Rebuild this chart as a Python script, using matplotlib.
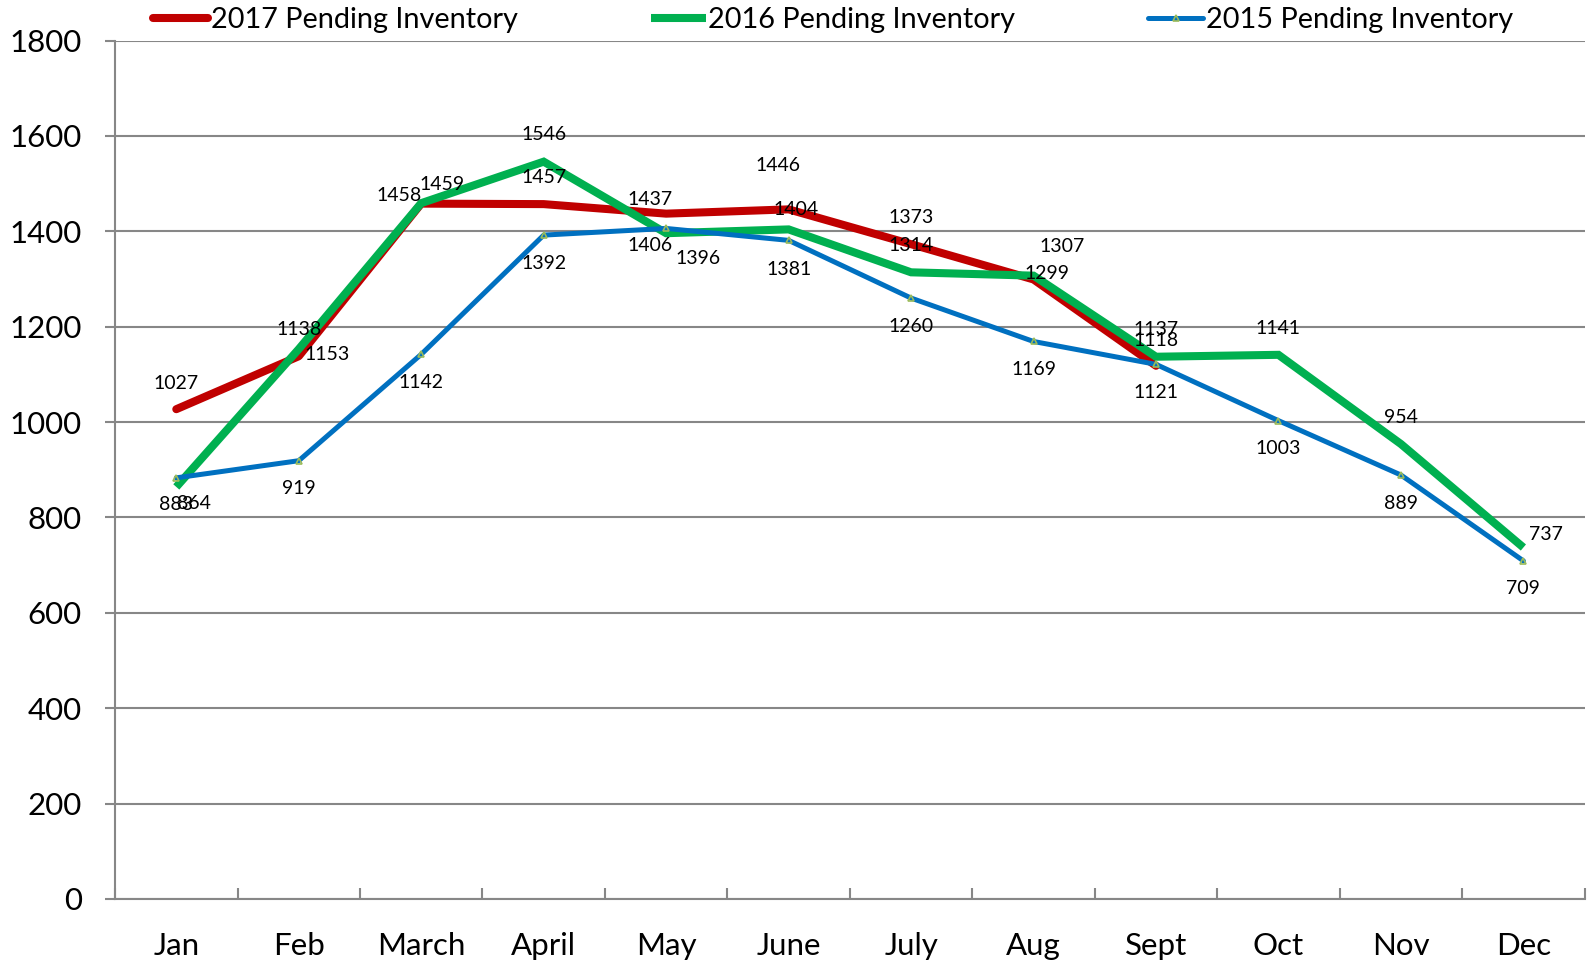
import matplotlib
matplotlib.use("Agg")
import matplotlib.pyplot as plt
import numpy as np

plt.rcParams['font.family'] = ['Lato', 'DejaVu Sans']

months = ["Jan", "Feb", "March", "April", "May", "June", "July", "Aug", "Sept", "Oct", "Nov", "Dec"]
inv_2017 = [1027, 1138, 1458, 1457, 1437, 1446, 1373, 1299, 1118]
inv_2016 = [864, 1153, 1459, 1546, 1396, 1404, 1314, 1307, 1137, 1141, 954, 737]
inv_2015 = [883, 919, 1142, 1392, 1406, 1381, 1260, 1169, 1121, 1003, 889, 709]

# label offsets in pixels (dx, dy)
off_2017 = [(0, 26), (0, 27), (-22, 8), (0, 27), (-16, 14), (-11, 44), (0, 27), (13, 6), (0, 25)]
off_2016 = [(18, -17), (28, -5), (21, 19), (0, 27), (32, -25), (7, 20), (0, 27), (29, 29),
            (0, 27), (0, 26), (0, 27), (23, 13)]
off_2015 = [(0, -27), (0, -28), (0, -28), (0, -28), (-16, -17), (0, -29), (0, -28), (0, -28),
            (0, -28), (0, -28), (0, -28), (0, -28)]

red = "#C00000"
green = "#00B050"
blue = "#0070C0"
grid_c = "#878787"

fig = plt.figure(figsize=(15.87, 9.65), dpi=100)
ax = fig.add_axes([0.0725, 0.0684, 0.926, 0.8896])

x = np.arange(len(months))
ax.plot(x[:len(inv_2017)], inv_2017, color=red, lw=5.8, solid_capstyle='round',
        solid_joinstyle='round', label="2017 Pending Inventory", zorder=3)
ax.plot(x, inv_2016, color=green, lw=5.8, solid_capstyle='butt',
        solid_joinstyle='miter', label="2016 Pending Inventory", zorder=4)
ax.plot(x, inv_2015, color=blue, lw=3.6, solid_capstyle='round',
        marker='^', ms=4.5, mfc='none', mec="#9BBB59", mew=1.2,
        label="2015 Pending Inventory", zorder=5)

for vals, offs in [(inv_2017, off_2017), (inv_2016, off_2016), (inv_2015, off_2015)]:
    for i, (v, o) in enumerate(zip(vals, offs)):
        ax.annotate(str(v), (i, v), xytext=o, textcoords='offset pixels',
                    ha='center', va='center', fontsize=14, color='black', zorder=6)

ax.set_xlim(-0.5, len(months) - 0.5)
ax.set_ylim(0, 1800)
ax.set_yticks(np.arange(0, 1801, 200))
ax.set_xticks(x)
ax.set_xticklabels(months)
ax.set_xticks(np.arange(-0.5, len(months), 1), minor=True)

ax.grid(axis='y', color=grid_c, lw=1.5, zorder=1)
ax.set_axisbelow(True)
for s in ['top', 'right']:
    ax.spines[s].set_visible(False)
for s in ['left', 'bottom']:
    ax.spines[s].set_color(grid_c)
    ax.spines[s].set_linewidth(1.5)

ax.tick_params(axis='y', direction='out', length=7, width=1.5, color=grid_c,
               labelsize=22.5, pad=17)
ax.tick_params(axis='x', which='major', length=0, labelsize=22.5, pad=24)
ax.tick_params(axis='x', which='minor', direction='in', length=8, width=1.5, color=grid_c)

fig.legend(loc='center', bbox_to_anchor=(0.525, 1 - 20 / 965), ncol=3, frameon=False,
           fontsize=20.8, handlelength=1.9, handletextpad=0.1, columnspacing=4.6,
           borderaxespad=0, borderpad=0)

fig.savefig("out.png", dpi=100)
